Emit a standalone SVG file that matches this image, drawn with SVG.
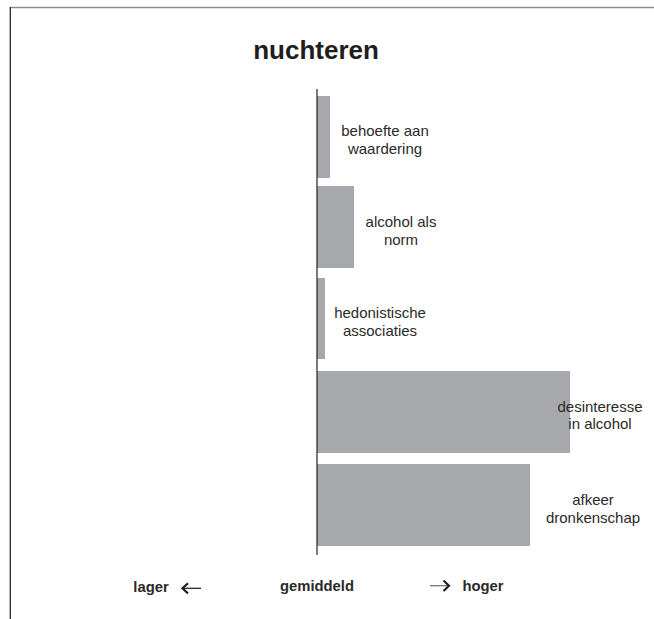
<svg xmlns="http://www.w3.org/2000/svg" width="654" height="619" viewBox="0 0 654 619">
<style>
.bar{fill:#a7a8ab}
.lbl{font-family:"Liberation Sans",Arial,sans-serif;font-size:15px;fill:#2a2a2a;text-anchor:middle}
.ax{font-family:"Liberation Sans",Arial,sans-serif;font-size:14.8px;font-weight:bold;fill:#2a2a2a;text-anchor:middle}
.title{font-family:"Liberation Sans",Arial,sans-serif;font-size:26px;font-weight:bold;fill:#1e1e1e;text-anchor:middle}
</style>
<rect width="654" height="619" fill="#ffffff"/>
<g id="frame">
<line x1="10" y1="7.5" x2="654" y2="7.5" stroke="#8c8c8c" stroke-width="1.7"/>
<line x1="10.3" y1="7" x2="10.3" y2="619" stroke="#2a2a2a" stroke-width="1.3"/>
</g>
<text id="title" class="title" x="316" y="59">nuchteren</text>
<g id="bar-behoefte">
<rect class="bar" x="317" y="96" width="13" height="82"/>
<text class="lbl" x="385" y="136">behoefte aan</text>
<text class="lbl" x="385" y="154">waardering</text>
</g>
<g id="bar-norm">
<rect class="bar" x="317" y="186" width="37" height="82"/>
<text class="lbl" x="401" y="227">alcohol als</text>
<text class="lbl" x="401" y="245">norm</text>
</g>
<g id="bar-hedonistisch">
<rect class="bar" x="317" y="278" width="8" height="81"/>
<text class="lbl" x="380" y="318">hedonistische</text>
<text class="lbl" x="380" y="336">associaties</text>
</g>
<g id="bar-desinteresse">
<rect class="bar" x="317" y="371" width="253" height="82"/>
<text class="lbl" x="600" y="412">desinteresse</text>
<text class="lbl" x="600" y="429">in alcohol</text>
</g>
<g id="bar-afkeer">
<rect class="bar" x="317" y="464" width="213" height="82"/>
<text class="lbl" x="593" y="505">afkeer</text>
<text class="lbl" x="593" y="523">dronkenschap</text>
</g>
<g id="connectors">
<line x1="317" y1="89" x2="317" y2="555" stroke="#222" stroke-width="1.2"/>
<line x1="182" y1="588.3" x2="201" y2="588.3" stroke="#2a2a2a" stroke-width="1.3"/>
<polyline points="188,583.3 182.5,588.3 188,593.5" fill="none" stroke="#1e1e1e" stroke-width="2.2"/>
<line x1="430" y1="585.7" x2="449" y2="585.7" stroke="#777" stroke-width="1.3"/>
<polyline points="443.5,580.5 449,585.7 443.5,591" fill="none" stroke="#1e1e1e" stroke-width="2.2"/>
</g>
<g id="axis-labels">
<text class="ax" x="151" y="592">lager</text>
<text class="ax" x="317" y="591">gemiddeld</text>
<text class="ax" x="483" y="591">hoger</text>
</g>
</svg>
